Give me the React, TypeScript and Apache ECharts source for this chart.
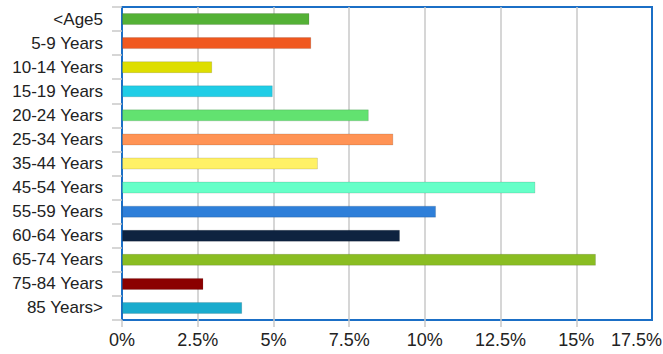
import React, { useEffect, useRef } from "react";
import * as echarts from "echarts";

const categories = [
  "<Age5", "5-9 Years", "10-14 Years", "15-19 Years", "20-24 Years", "25-34 Years",
  "35-44 Years", "45-54 Years", "55-59 Years", "60-64 Years", "65-74 Years", "75-84 Years", "85 Years>",
];
const values = [6.19, 6.25, 2.98, 4.98, 8.15, 8.96, 6.47, 13.65, 10.37, 9.18, 15.65, 2.69, 3.97];
const colors = [
  "#54b136", "#f0581f", "#dede00", "#20cde6", "#62e270", "#ff9355", "#fff166",
  "#66ffc8", "#2e7fd9", "#0e2340", "#8abd22", "#8b0000", "#1aabcd",
];
const xTicks = [0, 2.5, 5, 7.5, 10, 12.5, 15, 17.5];

const fmt = (v: number) => `${v}%`;

export default function App() {
  const ref = useRef<HTMLDivElement>(null);
  useEffect(() => {
    const chart = echarts.init(ref.current!, undefined, { renderer: "svg" });
    chart.setOption({
      animation: false,
      grid: {
        left: 122, right: 11, top: 7, bottom: 34,
        outerBoundsMode: "none",
        containLabel: false,
        show: true, borderColor: "#1b6fc6", borderWidth: 2, backgroundColor: "transparent",
      },
      xAxis: {
        type: "value",
        min: xTicks[0],
        max: xTicks[xTicks.length - 1],
        interval: 2.5,
        axisLine: { show: false },
        axisTick: { show: true, length: 7, lineStyle: { color: "#c8c8c8", width: 1.5 } },
        splitLine: { show: true, showMinLine: false, showMaxLine: false, lineStyle: { color: "#c8c8c8", width: 1.5 } },
        axisLabel: {
          formatter: fmt,
          color: "#222",
          fontFamily: "Liberation Sans",
          fontSize: 18,
          margin: 11,
          showMinLabel: true,
          showMaxLabel: false,
        },
      },
      yAxis: {
        type: "category",
        data: categories,
        inverse: true,
        axisLine: { show: false },
        axisTick: { show: true, length: 10, lineStyle: { color: "#c8c8c8", width: 1.5 } },
        axisLabel: { color: "#222", fontFamily: "Liberation Sans", fontSize: 17, margin: 19 },
        splitLine: { show: false },
      },
      graphic: [
        {
          type: "text",
          right: 1,
          top: 331,
          style: {
            text: fmt(xTicks[xTicks.length - 1]),
            fill: "#222",
            font: "18px 'Liberation Sans'",
          },
        },
      ],
      series: [
        {
          type: "bar",
          data: values.map((v, i) => ({
            value: v,
            itemStyle: { color: colors[i], borderColor: "rgba(0,0,0,0.12)", borderWidth: 1 },
          })),
          barWidth: 12,
        },
      ],
    });
    return () => chart.dispose();
  }, []);
  return <div ref={ref} style={{ width: 663, height: 354, position: "absolute", left: 0, top: 0 }} />;
}
